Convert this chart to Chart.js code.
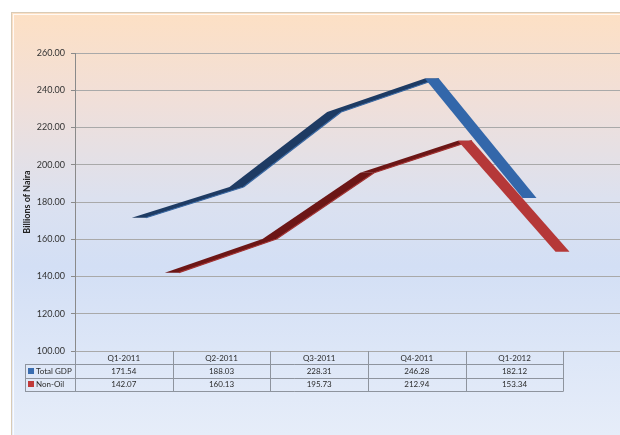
<!DOCTYPE html>
<html>
<head>
<meta charset="utf-8">
<title>GDP 2011-2012</title>
<script src="https://cdn.jsdelivr.net/npm/chart.js@4.4.1/dist/chart.umd.min.js"></script>
<style>
  html, body { margin: 0; padding: 0; background: #fff; }
  #wrap { width: 620px; height: 435px; }
</style>
</head>
<body>
<div id="wrap"><canvas id="gdpChart" width="620" height="435"></canvas></div>
<script>
/* ---------- DATA ---------- */
const quarters = ['Q1-2011', 'Q2-2011', 'Q3-2011', 'Q4-2011', 'Q1-2012'];
const totalGdp = [171.54, 188.03, 228.31, 246.28, 182.12];
const nonOil = [142.07, 160.13, 195.73, 212.94, 153.34];
const seriesNames = ['Total GDP', 'Non-Oil'];
const yTicks = [100, 120, 140, 160, 180, 200, 220, 240, 260];

/* ---------- STYLE ---------- */
const FONT = 'Lato, "Liberation Sans", sans-serif';
const ribbonColors = [
    { up: '#1e3b63', upEdge: '#3a68a2', down: '#3367aa', key: '#3a6db0' },
    { up: '#6c1616', upEdge: '#a23232', down: '#b53838', key: '#c03a3a' }
];
const seriesShift = [8, 41];   // each series sits a bit further back
const depth = 14;               // ribbon depth in px

/* ---------- BACKGROUND + FRAME ---------- */
const framePlugin = {
    id: 'frame',
    beforeDraw(chart) {
        const ctx = chart.ctx;
        ctx.save();
        ctx.fillStyle = '#ffffff';
        ctx.fillRect(0, 0, chart.width, chart.height);
        const g = ctx.createLinearGradient(0, 13, 0, chart.height);
        g.addColorStop(0, '#fde0c4');
        g.addColorStop(0.2, '#f1dfd8');
        g.addColorStop(0.45, '#dbe1f0');
        g.addColorStop(0.6, '#d3dff5');
        g.addColorStop(1, '#e6edf9');
        ctx.fillStyle = g;
        ctx.fillRect(12, 13, chart.width - 12, chart.height - 13);
        ctx.strokeStyle = '#d9cbb6';
        ctx.lineWidth = 1;
        ctx.strokeRect(11.5, 12.5, chart.width, chart.height);
        ctx.strokeStyle = 'rgba(255,255,255,0.8)';
        ctx.strokeRect(13.5, 14.5, chart.width, chart.height);
        ctx.restore();
    }
};

/* ---------- 3D RIBBON LINES ---------- */
const ribbonPlugin = {
    id: 'ribbons',
    afterDatasetsDraw(chart) {
        const ctx = chart.ctx;
        ctx.save();
        chart.data.datasets.forEach((ds, di) => {
            const pts = chart.getDatasetMeta(di).data.map(p => ({ x: p.x + seriesShift[di], y: p.y }));
            const c = ribbonColors[di];
            for (let i = 0; i < pts.length - 1; i++) {
                const a = pts[i], b = pts[i + 1];
                const rising = b.y < a.y;
                ctx.beginPath();
                ctx.moveTo(a.x, a.y);
                ctx.lineTo(b.x, b.y);
                ctx.lineTo(b.x + depth, b.y);
                ctx.lineTo(a.x + depth, a.y);
                ctx.closePath();
                ctx.fillStyle = rising ? c.up : c.down;
                ctx.fill();
                if (rising) {
                    // lit top edge of a rising face
                    ctx.beginPath();
                    ctx.moveTo(a.x + depth, a.y);
                    ctx.lineTo(b.x + depth, b.y);
                    ctx.strokeStyle = c.upEdge;
                    ctx.lineWidth = 1.2;
                    ctx.stroke();
                }
            }
        });
        ctx.restore();
    }
};

/* ---------- DATA TABLE ---------- */
const tablePlugin = {
    id: 'dataTable',
    afterDraw(chart) {
        const ctx = chart.ctx;
        const xs = chart.scales.x;
        const top = chart.chartArea.bottom;
        const rowH = 13.3;
        const leftX = 25;
        const edges = quarters.map((q, i) => xs.getPixelForValue(i - 0.5));
        edges.push(xs.getPixelForValue(quarters.length - 0.5));
        const rows = [totalGdp, nonOil];

        ctx.save();
        ctx.strokeStyle = '#8e949e';
        ctx.lineWidth = 1;
        ctx.beginPath();
        // horizontal rules
        for (let r = 1; r <= rows.length + 1; r++) {
            const y = Math.round(top + r * rowH) + 0.5;
            ctx.moveTo(leftX, y);
            ctx.lineTo(edges[edges.length - 1], y);
        }
        // vertical rules
        const bottom = Math.round(top + (rows.length + 1) * rowH) + 0.5;
        edges.forEach(x => {
            const px = Math.round(x) + 0.5;
            ctx.moveTo(px, top);
            ctx.lineTo(px, bottom);
        });
        ctx.moveTo(leftX + 0.5, Math.round(top + rowH) + 0.5);
        ctx.lineTo(leftX + 0.5, bottom);
        ctx.stroke();

        ctx.font = '8px ' + FONT;
        ctx.fillStyle = '#2a2a2a';
        ctx.textAlign = 'center';
        ctx.textBaseline = 'middle';
        quarters.forEach((q, i) => {
            const cx = (edges[i] + edges[i + 1]) / 2;
            ctx.fillText(q, cx, top + rowH / 2 + 0.5);
            rows.forEach((vals, r) => {
                ctx.fillText(vals[i].toFixed(2), cx, top + (r + 1.5) * rowH + 0.5);
            });
        });
        ctx.textAlign = 'left';
        seriesNames.forEach((name, r) => {
            const cy = top + (r + 1.5) * rowH;
            ctx.fillStyle = ribbonColors[r].key;
            ctx.fillRect(leftX + 3, Math.round(cy) - 3, 6, 6);
            ctx.fillStyle = '#2a2a2a';
            ctx.fillText(name, leftX + 11, cy + 0.5);
        });
        ctx.restore();
    }
};

/* ---------- CHART ---------- */
const ctx = document.getElementById('gdpChart').getContext('2d');
const toPoints = vals => vals.map((v, i) => ({ x: i, y: v }));

new Chart(ctx, {
    type: 'line',
    data: {
        datasets: [
            { label: seriesNames[0], data: toPoints(totalGdp), showLine: false, pointRadius: 0 },
            { label: seriesNames[1], data: toPoints(nonOil), showLine: false, pointRadius: 0 }
        ]
    },
    options: {
        responsive: false,
        animation: false,
        layout: { padding: { top: 53, bottom: 84, left: 12, right: 0 } },
        plugins: { legend: { display: false }, tooltip: { enabled: false } },
        scales: {
            x: {
                type: 'linear',
                display: false,
                min: -0.5,
                max: 5.08
            },
            y: {
                min: yTicks[0],
                max: yTicks[yTicks.length - 1],
                afterBuildTicks: scale => { scale.ticks = yTicks.map(v => ({ value: v })); },
                afterFit: scale => { scale.width = 63; },
                ticks: {
                    padding: 6,
                    color: '#333',
                    font: { family: FONT, size: 9 },
                    callback: v => Number(v).toFixed(2)
                },
                grid: { color: '#a9a9a9', tickLength: 4, tickColor: '#8a8a8a' },
                border: { color: '#8a8a8a' },
                title: {
                    display: true,
                    text: 'Billions of Naira',
                    color: '#222',
                    font: { family: FONT, size: 9, weight: 'bold' },
                    padding: { top: 10, bottom: 0 }
                }
            }
        }
    },
    plugins: [framePlugin, ribbonPlugin, tablePlugin]
});
</script>
</body>
</html>
